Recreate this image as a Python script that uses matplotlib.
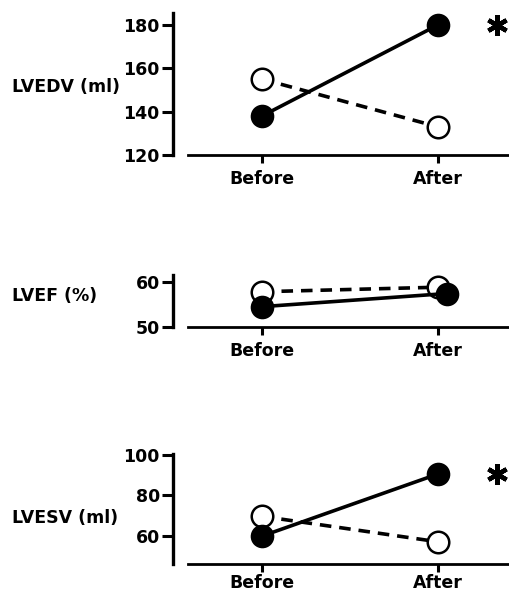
import matplotlib
matplotlib.use("Agg")
import matplotlib.pyplot as plt

# ---- data ----
groups = ["Before", "After"]
lvedv_filled = [138, 180]
lvedv_open = [155, 133]
lvef_filled = [54.5, 57.4]
lvef_open = [57.8, 58.8]
lvesv_filled = [60, 90.5]
lvesv_open = [69.7, 57.2]

panels = [
    dict(label="LVEDV (ml)", filled=lvedv_filled, opened=lvedv_open,
         yticks=[120, 140, 160, 180], ylim=(120, 185.5), sig=True),
    dict(label="LVEF (%)", filled=lvef_filled, opened=lvef_open,
         yticks=[50, 60], ylim=(50, 61.5), sig=False),
    dict(label="LVESV (ml)", filled=lvesv_filled, opened=lvesv_open,
         yticks=[60, 80, 100], ylim=(46.3, 100.3), sig=True),
]

# layout in pixels (top, bottom) of each axes, label y centre, x-label pad
W, H = 510, 595
boxes = [(13, 155, 87, 5), (275, 327, 296, 5), (454, 564, 518, 1.5)]
ax_left, ax_right = 173, 510
x_before, x_after = 262, 438
xunit = x_after - x_before
xlim = ((ax_left - x_before) / xunit, (ax_right - x_before) / xunit)
xspine_start = (188 - x_before) / xunit
dodge_ef = 0.05

plt.rcParams['font.family'] = ['DejaVu Sans']
fig = plt.figure(figsize=(W / 100, H / 100), dpi=100)

FS = 12.5
for i, (p, (top, bot, lab_y, xpad)) in enumerate(zip(panels, boxes)):
    ax = fig.add_axes([ax_left / W, (H - bot) / H, (ax_right - ax_left) / W, (bot - top) / H])
    xs = list(range(len(groups)))
    xs_f = [x + (dodge_ef if (i == 1 and x == 1) else 0) for x in xs]
    ax.plot(xs, p["opened"], ls=(0, (3.2, 2.2)), color="black", lw=2.6, marker="o",
            ms=15.5, mfc="white", mec="black", mew=1.8, zorder=3, clip_on=False)
    ax.plot(xs_f, p["filled"], ls="-", color="black", lw=2.6, marker="o",
            ms=15.5, mfc="black", mec="black", mew=1.5, zorder=4, clip_on=False)
    if p["sig"]:
        ax.plot([xs[1] + 0.335], [p["filled"][1]], marker=(6, 2, 0), ms=15,
                mew=3.2, color="black", clip_on=False, ls="none")
    ax.set_xlim(*xlim)
    ax.set_ylim(*p["ylim"])
    ax.set_xticks(xs)
    ax.set_xticklabels(groups, fontsize=FS, fontweight="bold")
    ax.set_yticks(p["yticks"])
    ax.set_yticklabels([str(t) for t in p["yticks"]], fontsize=FS, fontweight="bold")
    for s in ["top", "right"]:
        ax.spines[s].set_visible(False)
    ax.spines["left"].set_linewidth(2.4)
    ax.spines["bottom"].set_linewidth(2.0)
    ax.spines["bottom"].set_bounds(xspine_start, xlim[1])
    ax.tick_params(axis="y", width=2.2, length=8, direction="out", pad=1.5, colors="black")
    ax.tick_params(axis="x", width=2.2, length=6, direction="out", pad=xpad, colors="black")
    ax.patch.set_alpha(0)
    fig.text(12 / W, 1 - lab_y / H, p["label"], fontsize=FS, fontweight="bold",
             ha="left", va="center")

fig.savefig("out.png", dpi=100)
